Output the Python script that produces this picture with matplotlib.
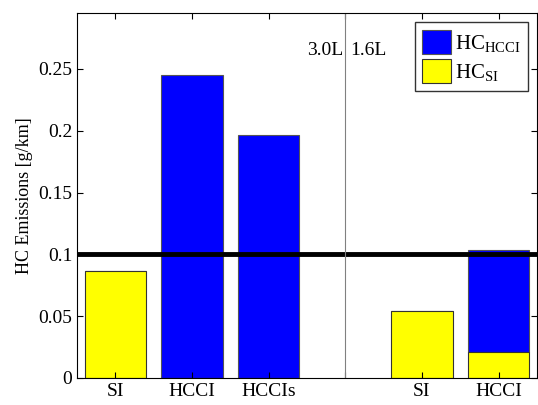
import matplotlib
matplotlib.use("Agg")
import matplotlib.pyplot as plt
import numpy as np

plt.rcParams['font.family'] = 'Liberation Serif'
plt.rcParams['mathtext.fontset'] = 'custom'
plt.rcParams['mathtext.rm'] = 'Liberation Serif'
plt.rcParams['mathtext.it'] = 'Liberation Serif:italic'

# donnees
labels = ['SI', 'HCCI', 'HCCIs', '', 'SI', 'HCCI']
pos = [1, 2, 3, 5, 6]
hc_si = [0.0868, 0.0, 0.0, 0.0542, 0.0213]
hc_hcci = [0.0, 0.245, 0.197, 0.0, 0.0825]
limite = 0.1

fig = plt.figure(figsize=(5.38, 4.05), dpi=100)
ax = fig.add_axes([77/538, 27/405, 460/538, 365/405])

ax.bar(pos, hc_hcci, width=0.8, bottom=hc_si, color='blue', edgecolor='#555555', linewidth=0.8, label=r'HC$_{\mathrm{HCCI}}$')
ax.bar(pos, hc_si, width=0.8, color='yellow', edgecolor='#333333', linewidth=0.8, label=r'HC$_{\mathrm{SI}}$')

ax.axhline(limite, color='black', linewidth=3.5)
ax.axvline(4, color='gray', linewidth=0.8)
ax.text(3.97, 0.265, '3.0L', ha='right', va='center', fontsize=14)
ax.text(4.07, 0.265, '1.6L', ha='left', va='center', fontsize=14)

ax.set_xlim(0.5, 6.5)
ax.set_ylim(0, 0.2953)
ax.set_xticks(range(1, 7))
ax.set_xticklabels(labels, fontsize=14)
ax.set_yticks([0, 0.05, 0.1, 0.15, 0.2, 0.25])
ax.set_yticklabels(['0', '0.05', '0.1', '0.15', '0.2', '0.25'], fontsize=14)
ax.tick_params(direction='in', top=True, right=True, length=4)
ax.set_ylabel('HC Emissions [g/km]', fontsize=13)

leg = ax.legend(loc='upper right', fontsize=15, fancybox=False, edgecolor='black',
                handlelength=1.35, handleheight=1.45, borderaxespad=0.45, labelspacing=0.2,
                handletextpad=0.2, borderpad=0.35)
leg.get_frame().set_linewidth(1.0)

fig.savefig('out.png', dpi=100)
